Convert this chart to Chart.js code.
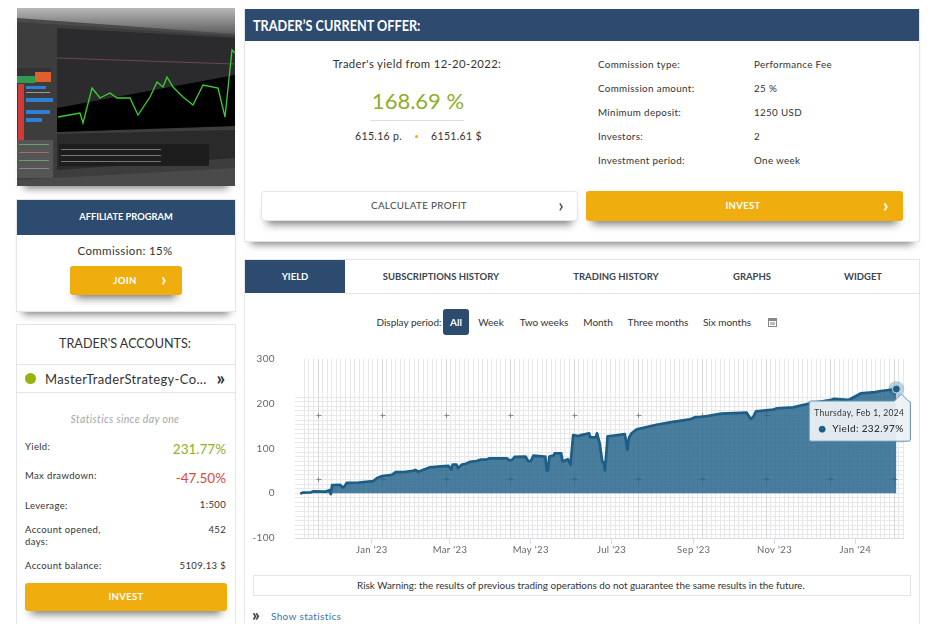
<!DOCTYPE html>
<html lang="en">
<head>
<meta charset="UTF-8">
<title>Trader's current offer</title>
<script src="https://cdn.jsdelivr.net/npm/chart.js"></script>
<style>
    html, body { margin: 0; padding: 0; background: #fff; overflow: hidden; }
    body { width: 939px; height: 624px; position: relative; font-family: Lato, "Open Sans", sans-serif; color: #333; font-size: 11px; letter-spacing: .35px; }
    .abs { position: absolute; white-space: nowrap; line-height: 1; transform: translateY(-50%); }
    .mid { transform: translate(-50%, -50%); }
    .end { transform: translate(-100%, -50%); }
    .box { position: absolute; box-sizing: border-box; border: 1px solid #e3e5e8; background: #fff; }
    .navy { position: absolute; background: #2d4a6f; }
    .btn { position: absolute; background: #f0ad0e; border-radius: 3px; box-shadow: 0 9px 8px -6px #777; }
    .white { color: #fff; font-weight: 700; }
    .tab { font-weight: 700; color: #3c4650; font-size: 9.5px; letter-spacing: 0; }
    .shadow { box-shadow: 0 9px 8px -7px #777; }
    .row { font-size: 9.8px; }
    .stat { font-size: 9.5px; }
    .period { font-size: 10px; letter-spacing: 0; }
    #chartWrap { position: absolute; left: 245px; top: 341px; width: 674px; height: 219px; }
</style>
</head>
<body>

<!-- thumbnail -->
<div class="shadow" style="position:absolute;left:17px;top:8px;width:218px;height:178px"></div>
<svg style="position:absolute;left:17px;top:8px;filter:blur(.5px)" width="218" height="178" viewBox="0 0 218 178">
    <defs><linearGradient id="topFade" x1="0" y1="0" x2="0" y2="1"><stop offset="0" stop-color="#b8b8b8"/><stop offset="1" stop-color="#5e5e5e"/></linearGradient></defs>
    <rect width="218" height="178" fill="#4a4a4a"/>
    <polygon points="0,0 218,0 218,26 0,10" fill="url(#topFade)"/>
    <polygon points="0,14 218,28 218,160 0,172" fill="#3d3d3d"/>
    <polygon points="40,20 218,30 218,118 40,124" fill="#2b2b2d"/>
    <polygon points="40,100 218,67 218,118 40,124" fill="#000"/>
    <polygon points="40,126 218,122 218,150 40,162" fill="#2a2a2a"/>
    <polyline points="40,50 218,56" fill="none" stroke="#6b4658" stroke-width="1"/>
    <polyline points="41,109 63,105 66,115 75,80 83,90 93,85 100,90 113,90 121,107 133,89 140,74 146,79 150,69 156,79 166,89 176,97 186,77 201,80 208,109 215,42 218,45" fill="none" stroke="#39d12f" stroke-width="1.3"/>
    <rect x="0" y="60" width="34" height="14" fill="#333"/>
    <rect x="18" y="64" width="16" height="10" fill="#e0602c"/>
    <rect x="0" y="68" width="18" height="7" fill="#2f9a50"/>
    <rect x="1" y="76" width="6" height="56" fill="#d03a3a"/>
    <rect x="9" y="78" width="20" height="3" fill="#2f7fd6"/>
    <rect x="9" y="90" width="27" height="4" fill="#2f7fd6"/>
    <rect x="9" y="102" width="24" height="4" fill="#2f7fd6"/>
    <rect x="9" y="110" width="16" height="4" fill="#2f7fd6"/>
    <rect x="9" y="84" width="24" height="1" fill="#999"/>
    <rect x="0" y="132" width="36" height="38" fill="#555"/>
    <rect x="2" y="136" width="30" height="1" fill="#6d9d6d"/>
    <rect x="2" y="144" width="30" height="1" fill="#a86d6d"/>
    <rect x="2" y="152" width="30" height="1" fill="#6d9d6d"/>
    <rect x="2" y="160" width="30" height="1" fill="#888"/>
    <rect x="42" y="136" width="150" height="22" fill="#1d1d1d"/>
    <rect x="44" y="141" width="100" height="1" fill="#777"/>
    <rect x="44" y="147" width="100" height="1" fill="#777"/>
    <rect x="44" y="153" width="100" height="1" fill="#777"/>
</svg>

<!-- affiliate -->
<div class="box shadow" style="left:16px;top:199px;width:220px;height:113px"></div>
<div class="navy" style="left:17px;top:200px;width:218px;height:35px"></div>
<div class="abs mid white" style="left:126px;top:217px;font-size:9.3px;letter-spacing:0">AFFILIATE PROGRAM</div>
<div class="abs mid" style="left:125px;top:251px;font-size:11.5px">Commission: 15%</div>
<div class="btn" style="left:70px;top:266px;width:112px;height:29px"></div>
<div class="abs mid white" style="left:125px;top:281px;font-size:9.5px">JOIN</div>
<div class="abs mid white" style="left:164px;top:279px;font-size:18px">›</div>

<!-- accounts -->
<div class="box" style="left:16px;top:324px;width:220px;height:310px"></div>
<div class="abs mid" style="left:125px;top:344px;font-size:12.6px;letter-spacing:0">TRADER'S ACCOUNTS:</div>
<div style="position:absolute;left:17px;top:364px;width:218px;height:27px;border-top:1px solid #e3e5e8;border-bottom:1px solid #e3e5e8"></div>
<div style="position:absolute;left:25px;top:373px;width:11px;height:11px;border-radius:50%;background:#96b40f"></div>
<div class="abs" style="left:45px;top:379px;font-size:13px">MasterTraderStrategy-Co...</div>
<div class="abs mid" style="left:221px;top:377px;font-size:19px;font-weight:700">»</div>
<div class="abs mid" style="left:125px;top:419px;font-size:10.5px;font-style:italic;color:#a3a7ab">Statistics since day one</div>
<div class="abs stat" style="left:25px;top:447px">Yield:</div>
<div class="abs end" style="left:226px;top:450px;font-size:13.5px;letter-spacing:0;color:#8fae2b">231.77%</div>
<div class="abs stat" style="left:25px;top:476px">Max drawdown:</div>
<div class="abs end" style="left:226px;top:479px;font-size:13.5px;letter-spacing:0;color:#d5493c">-47.50%</div>
<div class="abs stat" style="left:25px;top:506px">Leverage:</div>
<div class="abs end stat" style="left:226px;top:505px">1:500</div>
<div class="abs stat" style="left:25px;top:530px">Account opened,</div>
<div class="abs stat" style="left:25px;top:542px">days:</div>
<div class="abs end stat" style="left:226px;top:530px">452</div>
<div class="abs stat" style="left:25px;top:566px">Account balance:</div>
<div class="abs end stat" style="left:226px;top:566px">5109.13 $</div>
<div class="btn" style="left:25px;top:583px;width:202px;height:28px"></div>
<div class="abs mid white" style="left:126px;top:597px;font-size:9.5px">INVEST</div>

<!-- offer -->
<div class="box shadow" style="left:244px;top:9px;width:676px;height:233px"></div>
<div class="navy" style="left:245px;top:9px;width:674px;height:32px"></div>
<div class="abs white" style="left:253px;top:26px;font-size:14.5px;letter-spacing:0;transform-origin:left center;transform:translateY(-50%) scaleX(.875)">TRADER’S CURRENT OFFER:</div>
<div class="abs mid" style="left:417px;top:64px;font-size:11.3px">Trader's yield from 12-20-2022:</div>
<div class="abs mid" style="left:418px;top:101px;font-size:22px;letter-spacing:0;color:#8fae2b">168.69 %</div>
<div style="position:absolute;left:370px;top:120px;width:94px;height:1px;background:#ddd"></div>
<div class="abs" style="left:355px;top:136px;font-size:10.5px">615.16 p.</div>
<div style="position:absolute;left:415px;top:135px;width:3px;height:3px;border-radius:50%;background:#f0ad0e"></div>
<div class="abs" style="left:431px;top:136px;font-size:10.5px">6151.61 $</div>
<div class="abs row" style="left:598px;top:65px">Commission type:</div>
<div class="abs row" style="left:754px;top:65px">Performance Fee</div>
<div class="abs row" style="left:598px;top:89px">Commission amount:</div>
<div class="abs row" style="left:754px;top:89px">25 %</div>
<div class="abs row" style="left:598px;top:113px">Minimum deposit:</div>
<div class="abs row" style="left:754px;top:113px">1250 USD</div>
<div class="abs row" style="left:598px;top:137px">Investors:</div>
<div class="abs row" style="left:754px;top:137px">2</div>
<div class="abs row" style="left:598px;top:161px">Investment period:</div>
<div class="abs row" style="left:754px;top:161px">One week</div>
<div class="box" style="left:261px;top:191px;width:317px;height:30px;border-radius:3px;box-shadow:0 9px 8px -6px #777"></div>
<div class="abs mid" style="left:419px;top:206px;font-size:9.8px;color:#3c4650">CALCULATE PROFIT</div>
<div class="abs mid" style="left:561px;top:204px;font-size:19px">›</div>
<div class="btn" style="left:586px;top:191px;width:317px;height:30px"></div>
<div class="abs mid white" style="left:743px;top:206px;font-size:9.5px">INVEST</div>
<div class="abs mid white" style="left:886px;top:204px;font-size:19px">›</div>

<!-- tabs -->
<div class="box" style="left:244px;top:259px;width:676px;height:380px"></div>
<div class="navy" style="left:245px;top:260px;width:100px;height:33px"></div>
<div style="position:absolute;left:345px;top:293px;width:574px;height:1px;background:#e3e5e8"></div>
<div class="abs mid white" style="left:295px;top:277px;font-size:9.5px;letter-spacing:0">YIELD</div>
<div class="abs mid tab" style="left:441px;top:277px">SUBSCRIPTIONS HISTORY</div>
<div class="abs mid tab" style="left:616px;top:277px">TRADING HISTORY</div>
<div class="abs mid tab" style="left:752px;top:277px">GRAPHS</div>
<div class="abs mid tab" style="left:863px;top:277px">WIDGET</div>
<div class="abs mid period" style="left:409px;top:322px">Display period:</div>
<div class="navy" style="left:443px;top:309px;width:26px;height:26px;border-radius:3px"></div>
<div class="abs mid white period" style="left:456px;top:322px">All</div>
<div class="abs mid period" style="left:491px;top:322px">Week</div>
<div class="abs mid period" style="left:544px;top:322px">Two weeks</div>
<div class="abs mid period" style="left:598px;top:322px">Month</div>
<div class="abs mid period" style="left:658px;top:322px">Three months</div>
<div class="abs mid period" style="left:727px;top:322px">Six months</div>
<svg style="position:absolute;left:768px;top:317px" width="9" height="10"><rect x=".5" y="1.5" width="8" height="8" fill="none" stroke="#888"/><rect x="1" y="2" width="7" height="2" fill="#888"/><rect x="2" y="5" width="5" height="3" fill="#bbb"/></svg>

<div id="chartWrap"><canvas id="yieldChart" width="674" height="219"></canvas></div>

<div class="box" style="left:253px;top:575px;width:658px;height:21px"></div>
<div class="abs mid" style="left:581px;top:586px;font-size:9.9px;letter-spacing:0">Risk Warning: the results of previous trading operations do not guarantee the same results in the future.</div>
<div class="abs mid" style="left:256px;top:614px;font-size:17px;font-weight:700">»</div>
<div class="abs" style="left:271px;top:616px;font-size:10px;color:#3d72a8">Show statistics</div>

<script>
    // days counted from Jan 1 2023
    var dayOffsets = [-54, -52, -46, -44, -35, -32, -31, -30, -24, -22, -21, -19, -10, 1, 4, 8, 15, 18, 23, 31, 33, 35, 39, 44, 52, 58, 60, 61, 64, 65, 68, 71, 74, 79, 82, 86, 89, 102, 104, 106, 108, 116, 118, 120, 122, 130, 131, 132, 133, 134, 137, 138, 143, 144, 148, 150, 152, 156, 158, 164, 165, 169, 170, 172, 174, 175, 176, 178, 183, 191, 193, 194, 196, 200, 205, 215, 225, 240, 244, 250, 264, 283, 286, 288, 290, 303, 306, 318, 331, 346, 349, 359, 361, 369, 380, 383, 396];
    var yieldValues = [-1, 1.5, 2, 4.5, 3.7, 6.7, -2, 18, 19, 13, 14, 23, 24, 27, 34, 38.5, 41, 47, 47, 50, 52, 48, 52.6, 58, 60, 61, 52.6, 64, 64, 56, 64, 66, 70, 72, 75, 75, 78, 78, 73, 75, 81.5, 82, 72, 72, 84, 82, 82, 51, 51, 82, 84, 89, 89, 71, 76, 64, 130, 128, 130, 134, 125, 125, 134, 112, 71, 69, 51, 127, 129, 132, 97, 123, 134, 143, 146, 153, 158.5, 165, 170, 171, 178, 180, 166, 171, 183, 187, 190, 192, 201, 208, 211, 209, 210, 223, 226, 228, 232.97];
    var monthTicks = [0, 59, 120, 181, 243, 304, 365];
    var monthLabels = ["Jan '23", "Mar '23", "May '23", "Jul '23", "Sep '23", "Nov '23", "Jan '24"];
    var yTicks = [-100, 0, 100, 200, 300];

    var lineColor = '#1d5e86';
    var fontName = 'Lato, "Open Sans", sans-serif';

    // keeps the tooltip just under the last point like in the picture
    Chart.Tooltip.positioners.underPoint = function (items) {
        if (!items.length) return false;
        return { x: items[0].element.x + 5, y: items[0].element.y };
    };

    // paper grid with crosses behind the area
    var paperGrid = {
        id: 'paperGrid',
        beforeDatasetsDraw: function (chart) {
            var ctx = chart.ctx, a = chart.chartArea;
            var cell = 64 / 14, originX = 72.5, originY = 74;
            ctx.save();
            ctx.lineWidth = 1;
            ctx.strokeStyle = '#e6e8ea';
            ctx.beginPath();
            var i, x, y;
            for (i = -3; originX + i * cell <= a.right; i++) {
                x = Math.round(originX + i * cell) + 0.5;
                if (x >= a.left) { ctx.moveTo(x, a.top); ctx.lineTo(x, a.bottom); }
            }
            for (i = -4; originY + i * cell <= a.bottom; i++) {
                y = Math.round(originY + i * cell) + 0.5;
                if (y >= a.top) { ctx.moveTo(a.left, y); ctx.lineTo(a.right, y); }
            }
            ctx.stroke();
            ctx.strokeStyle = '#d8dbde';
            ctx.beginPath();
            for (i = 0; originX + i * 64 <= a.right; i++) {
                x = Math.round(originX + i * 64) + 0.5;
                ctx.moveTo(x, a.top); ctx.lineTo(x, a.bottom);
            }
            ctx.stroke();
            ctx.strokeStyle = '#8a8a8a';
            ctx.beginPath();
            for (i = 0; originX + i * 64 <= a.right; i++) {
                x = Math.round(originX + i * 64) + 0.5;
                [originY, originY + 64].forEach(function (yy) {
                    ctx.moveTo(x - 2, yy + 0.5); ctx.lineTo(x + 3, yy + 0.5);
                    ctx.moveTo(x, yy - 2); ctx.lineTo(x, yy + 3);
                });
            }
            ctx.stroke();
            ctx.restore();
        },
        afterDatasetsDraw: function (chart) {
            // soft halo around the active last point
            var ctx = chart.ctx;
            var pts = chart.getDatasetMeta(0).data;
            var p = pts[pts.length - 1];
            ctx.save();
            ctx.fillStyle = 'rgba(29, 94, 134, 0.28)';
            ctx.beginPath();
            ctx.arc(p.x, p.y, 8, 0, Math.PI * 2);
            ctx.arc(p.x, p.y, 4, 0, Math.PI * 2, true);
            ctx.fill();
            ctx.restore();
        }
    };

    var lastIndex = dayOffsets.length - 1;
    var points = dayOffsets.map(function (d, i) { return { x: d, y: yieldValues[i] }; });

    var chart = new Chart(document.getElementById('yieldChart').getContext('2d'), {
        type: 'line',
        data: {
            datasets: [{
                label: 'Yield',
                data: points,
                borderColor: lineColor,
                borderWidth: 2.7,
                backgroundColor: 'rgba(29, 94, 134, 0.8)',
                fill: 'origin',
                tension: 0,
                borderJoinStyle: 'round',
                pointRadius: function (c) { return c.dataIndex === lastIndex ? 4 : 0; },
                pointBackgroundColor: lineColor,
                pointBorderColor: '#d6e0e8',
                pointBorderWidth: 1
            }]
        },
        plugins: [paperGrid],
        options: {
            responsive: false,
            animation: false,
            events: [],
            layout: { autoPadding: false, padding: { top: 9, right: 16, left: 0, bottom: 0 } },
            plugins: {
                legend: { display: false },
                tooltip: {
                    enabled: true,
                    position: 'underPoint',
                    xAlign: 'right',
                    yAlign: 'top',
                    backgroundColor: 'rgba(236, 241, 245, 0.94)',
                    borderColor: '#5f90ae',
                    borderWidth: 1,
                    cornerRadius: 2,
                    caretSize: 7,
                    caretPadding: 5,
                    padding: { top: 7, bottom: 6, left: 5, right: 6 },
                    titleColor: '#333',
                    bodyColor: '#333',
                    titleAlign: 'right',
                    bodyAlign: 'left',
                    titleFont: { family: fontName, size: 8.5, weight: 'normal' },
                    bodyFont: { family: fontName, size: 10, weight: '500' },
                    titleMarginBottom: 5,
                    usePointStyle: true,
                    boxWidth: 16,
                    boxHeight: 6,
                    callbacks: {
                        title: function (items) {
                            var d = new Date(Date.UTC(2023, 0, 1 + items[0].parsed.x));
                            return d.toLocaleDateString('en-US', { weekday: 'long', month: 'short', day: 'numeric', year: 'numeric', timeZone: 'UTC' });
                        },
                        label: function (item) { return item.dataset.label + ': ' + item.parsed.y.toFixed(2) + '%'; },
                        labelColor: function () { return { backgroundColor: lineColor, borderColor: lineColor }; },
                        labelPointStyle: function () { return { pointStyle: 'circle', rotation: 0 }; }
                    }
                }
            },
            scales: {
                x: {
                    type: 'linear',
                    min: -58,
                    max: 401,
                    afterBuildTicks: function (axis) {
                        axis.ticks = monthTicks.map(function (v) { return { value: v }; });
                    },
                    afterFit: function (axis) { axis.height = 22; },
                    grid: { drawOnChartArea: false, drawTicks: true, tickLength: 6, color: '#d5dce6' },
                    border: { color: '#d5dce6' },
                    ticks: {
                        autoSkip: false,
                        maxRotation: 0,
                        padding: 0,
                        color: '#666',
                        font: { family: fontName, size: 9.5 },
                        callback: function (v) { return monthLabels[monthTicks.indexOf(v)]; }
                    }
                },
                y: {
                    min: -100,
                    max: 300,
                    afterBuildTicks: function (axis) {
                        axis.ticks = yTicks.map(function (v) { return { value: v }; });
                    },
                    afterFit: function (axis) { axis.width = 50; },
                    grid: { display: false },
                    border: { display: false },
                    ticks: { padding: 12, color: '#666', font: { family: fontName, size: 10 } }
                }
            }
        }
    });

    // tooltip stays open on the last point
    chart.tooltip.setActiveElements([{ datasetIndex: 0, index: lastIndex }], { x: 0, y: 0 });
    chart.update();
</script>
</body>
</html>
